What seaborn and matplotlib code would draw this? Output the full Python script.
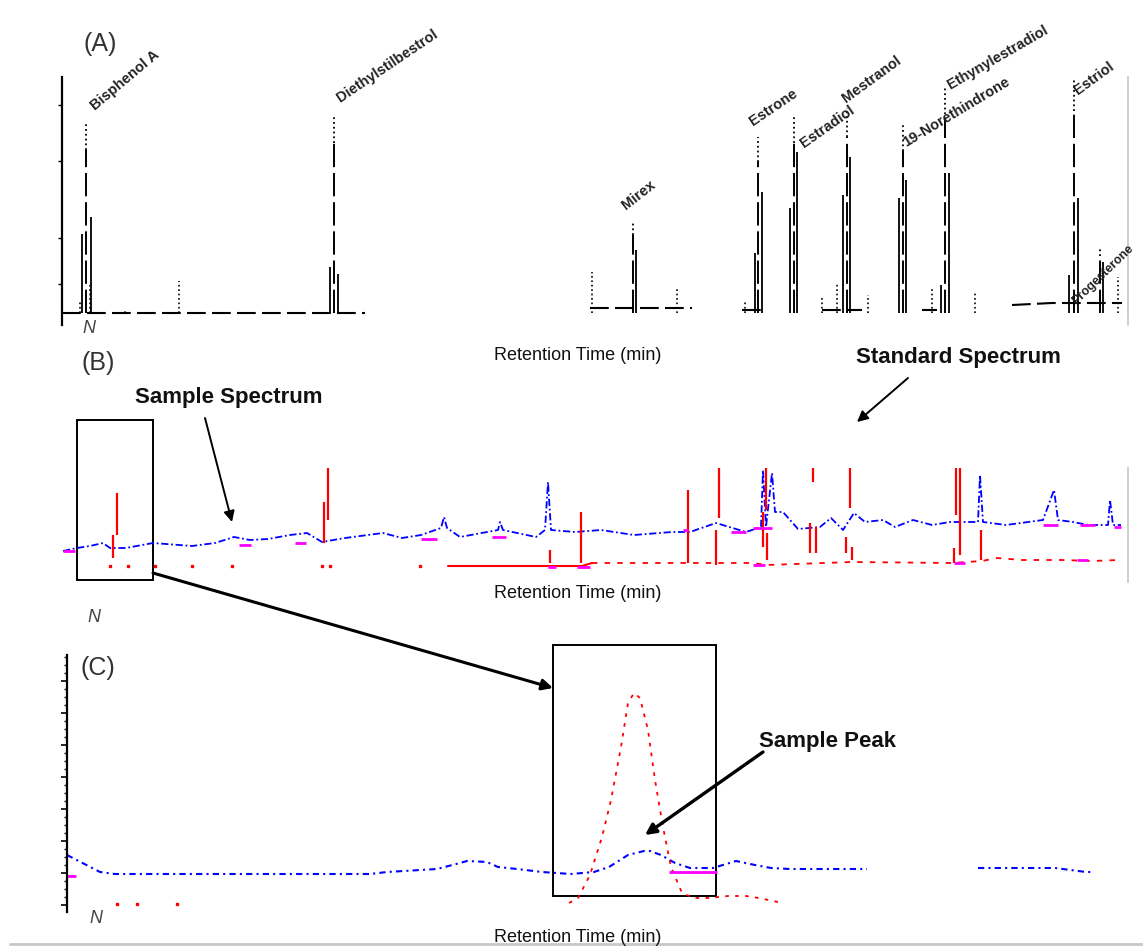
import numpy as np
import pandas as pd
import matplotlib
matplotlib.use("Agg")
import matplotlib.pyplot as plt
import seaborn as sns
from matplotlib.patches import Rectangle, FancyArrowPatch
from matplotlib.lines import Line2D

nan = np.nan
W, H = 1143, 947

# ---------------- Panel A : standard chromatogram ----------------
a_names = ["Bisphenol A", "Diethylstilbestrol", "Mirex", "Estrone", "Estradiol",
           "Mestranol", "19-Norethindrone", "Ethynylestradiol", "Estriol", "Progesterone"]
a_rt = [0.24, 2.72, 5.71, 6.96, 7.32, 7.85, 8.41, 8.83, 10.12, 10.38]
a_height = [189, 198, 91, 176, 198, 205, 188, 225, 235, 66]
a_sh1_rt = [0.29, 2.76, 5.74, 7.00, 7.35, 7.88, 8.44, 8.87, 10.16, 10.41]
a_sh1_h = [96, 39, 63, 121, 161, 156, 133, 140, 115, 51]
a_sh2_rt = [0.20, 2.68, 6.93, 7.28, 7.81, 8.37, 8.79, 10.07]
a_sh2_h = [79, 46, 60, 105, 118, 115, 28, 38]
a_minor_rt = [0.18, 0.28, 0.63, 1.17, 5.30, 6.15, 6.83, 7.60, 7.75, 8.06, 8.70, 9.13, 10.56]
a_minor_h = [13, 28, 3, 32, 41, 26, 13, 16, 30, 18, 26, 21, 36]
a_base_rt = [0.0, 1.5, 3.03, nan, 5.28, 6.30, nan, 6.80, 7.00, nan, 7.60, 8.00, nan,
             8.60, 8.75, nan, 9.50, 9.90, 10.00, 10.60]
a_base_h = [0, 0, 0, nan, 5, 5, nan, 3, 3, nan, 3, 3, nan, 3, 3, nan, 8, 10, 10, 10]

# ---------------- Panel B : sample (blue) vs standard (red) ----------------
b_blue_rt = [0.01, 0.15, 0.28, 0.41, 0.48, 0.64, 0.91, 1.30, 1.53, 1.72, 1.88, 2.06, 2.28,
             2.45, 2.60, 2.83, 3.21, 3.40, 3.59, 3.79, 3.82, 3.85, 3.98, 4.36, 4.38, 4.41,
             4.74, 4.83, 4.86, 4.89, 5.13, 5.39, 5.72, 6.10, 6.28, 6.54, 6.84, 6.99, 7.01,
             7.04, 7.10, 7.13, 7.21, 7.36, 7.58, 7.69, 7.81, 7.92, 8.03, 8.21, 8.33, 8.51,
             8.70, 8.88, 9.07, 9.16, 9.18, 9.21, 9.44, 9.81, 9.92, 9.96, 10.11, 10.26,
             10.46, 10.48, 10.51, 10.59]
b_blue_v = [31, 34, 36, 39, 34, 34, 39, 36, 39, 45, 42, 43, 47,
            49, 40, 44, 49, 44, 47, 54, 65, 54, 45, 52, 60, 52,
            45, 52, 100, 52, 50, 52, 47, 50, 50, 59, 50, 55, 112,
            55, 109, 70, 70, 53, 55, 64, 52, 69, 60, 62, 55, 62,
            57, 60, 60, 60, 107, 60, 57, 62, 92, 62, 60, 57,
            57, 82, 57, 57]
b_red_rt = [0.51, 0.55, 2.62, 2.66, 4.88, 5.19, 6.26, 6.54, 6.57, 7.01, 7.04, 7.05,
            7.48, 7.51, 7.54, 7.84, 7.88, 7.90, 8.92, 8.94, 8.98, 9.19]
b_red_lo = [24, 47, 39, 62, 19, 19, 19, 17, 64, 35, 72, 22, 29, 100, 29, 29, 74, 22, 19, 67, 27, 22]
b_red_hi = [47, 89, 80, 114, 32, 70, 92, 52, 130, 70, 130, 49, 59, 130, 55, 45, 130, 35, 34, 130, 130, 52]
b_red_dot_rt = [0.48, 0.66, 0.93, 1.30, 1.70, 2.60, 2.68, 3.58]
b_red_dot_v = [16, 16, 16, 16, 16, 16, 16, 16]
b_red_base_rt = [3.86, 5.20, 5.30, 6.00, 6.90, 7.05, 7.90, 8.90, 9.20, 9.35, 9.60, 10.00, 10.30, 10.57]
b_red_base_v = [16, 16, 19, 19, 19, 17, 20, 19, 21, 24, 22, 22, 21, 22]
b_mag_start = [0.01, 1.77, 2.33, 3.59, 4.30, 4.86, 5.15, 6.21, 6.69, 6.91, 6.91, 8.92, 9.81, 10.18, 10.15, 10.52]
b_mag_end = [0.13, 1.89, 2.44, 3.75, 4.44, 4.94, 5.28, 6.26, 6.84, 7.10, 7.03, 9.03, 9.96, 10.33, 10.26, 10.59]
b_mag_v = [31, 37, 39, 43, 45, 15, 15, 52, 50, 54, 17, 19, 57, 57, 22, 55]

# ---------------- Panel C : zoom on the sample peak ----------------
c_blue_rt = [0.002, 0.035, 0.05, 0.305, 0.322, 0.372, 0.395, 0.402, 0.422, 0.433, 0.452,
             0.477, 0.506, 0.529, 0.544, 0.563, 0.579, 0.585, 0.596, 0.61, 0.625, 0.648,
             0.671, 0.69, 0.706, 0.725, 0.802, nan, 0.913, 0.99, 1.021, 1.029]
c_blue_v = [50, 33, 31, 31, 33, 36, 42, 44, 43, 38, 36,
            33, 31, 33, 38, 50, 54, 54, 50, 42, 37, 37,
            44, 40, 37, 36, 36, nan, 37, 37, 33, 33]
c_red_rt = [0.504, 0.513, 0.525, 0.537, 0.546, 0.556, 0.563, 0.569, 0.575, 0.583,
            0.59, 0.598, 0.606, 0.617, 0.629, 0.644, 0.663, 0.681, 0.694, 0.713]
c_red_v = [2, 7, 30, 68, 105, 158, 202, 212, 207, 175,
           125, 78, 38, 12, 7, 7, 9, 9, 7, 3]
c_red_dot_rt = [0.052, 0.072, 0.112]
c_red_dot_v = [1, 1, 1]
c_mag_start = [0.0, 0.604]
c_mag_end = [0.011, 0.652]
c_mag_v = [29, 33]

# ---------------- styling ----------------
sns.set_theme(style="white")
plt.rcParams['font.family'] = ['Liberation Sans', 'DejaVu Sans']

fig = plt.figure(figsize=(W / 100, H / 100), dpi=100)
fig.patch.set_facecolor('white')


def rect(l, t, r, b):
    return [l / W, 1 - b / H, (r - l) / W, (b - t) / H]


def fp(x, y):
    return (x / W, 1 - y / H)


axA = fig.add_axes(rect(62, 77, 1128, 325))
axB = fig.add_axes(rect(62, 468, 1128, 582))
axC = fig.add_axes(rect(67, 655, 1105, 912))

for ax in (axA, axB, axC):
    ax.set_facecolor('none')
    ax.spines['top'].set_visible(False)
    ax.spines['bottom'].set_visible(False)
    ax.set_xticks([])

# ---- A ----
axA.set_xlim(0, 10.66)
axA.set_ylim(-12, 236)
top_split = [h * 0.86 for h in a_height]
axA.vlines(a_rt, 0, top_split, colors='black', lw=1.4, linestyles=(0, (12, 3)))
axA.vlines(a_rt, top_split, a_height, colors='black', lw=1.3, linestyles=':')
axA.vlines(a_sh1_rt, 0, a_sh1_h, colors='black', lw=1.3)
axA.vlines(a_sh2_rt, 0, a_sh2_h, colors='black', lw=1.3)
axA.vlines(a_minor_rt, 0, a_minor_h, colors='black', lw=1.2, linestyles=':')
axA.plot(a_base_rt, a_base_h, color='black', lw=1.5, linestyle=(0, (9, 3)))
axA.spines['left'].set_color('black')
axA.spines['left'].set_linewidth(1.6)
axA.spines['right'].set_color('#c8c8c8')
axA.set_yticks([29, 75, 152, 208])
axA.tick_params(axis='y', left=True, length=3, width=1, color='black', labelleft=False)

label_dx = [11, 8, -5, -3, 12, 1, 5, 7, 6, -22]
label_dy = [11, 10, 10, 9, -35, 3, -25, -4, -19, -60]
label_rot = [40, 34, 38, 34, 35, 36, 31, 30, 36, 44]
label_fs = [10.5, 10.5, 10.5, 10.5, 10.5, 10.5, 10.5, 10.5, 10.5, 9]
for name, t, h, dx, dy, rot, fs in zip(a_names, a_rt, a_height, label_dx, label_dy,
                                       label_rot, label_fs):
    axA.annotate(name, xy=(t, h), xytext=(dx, dy), textcoords='offset pixels',
                 rotation=rot, rotation_mode='anchor', ha='left', va='bottom',
                 fontsize=fs, fontweight='bold', color='#222222',
                 annotation_clip=False)

# ---- B ----
axB.set_xlim(0, 10.66)
axB.set_ylim(0, 114)
dfB = pd.DataFrame({'rt': b_blue_rt, 'v': b_blue_v})
sns.lineplot(data=dfB, x='rt', y='v', ax=axB, color='#0000ff', lw=1.3,
             linestyle=(0, (4, 1.5, 1, 1.5)), estimator=None, sort=False)
axB.vlines(b_red_rt, b_red_lo, b_red_hi, colors='#ff0000', lw=1.6)
axB.plot(b_red_dot_rt, b_red_dot_v, ls='none', marker='s', ms=1.8, color='#ff0000')
axB.plot(b_red_base_rt[:3], b_red_base_v[:3], color='#ff0000', lw=1.5)
axB.plot(b_red_base_rt[2:], b_red_base_v[2:], color='#ff0000', lw=1.3, linestyle=(0, (3, 4)))
axB.hlines(b_mag_v, b_mag_start, b_mag_end, colors='#ff00ff', lw=2)
axB.add_patch(Rectangle((0.15, 2), 0.76, 160, fill=False, ec='black', lw=1.4, clip_on=False))
axB.spines['left'].set_visible(False)
axB.spines['right'].set_color('#c8c8c8')
axB.set_yticks([])
axB.set_xlabel('')
axB.set_ylabel('')

# ---- C ----
axC.set_xlim(0.002, 1.04)
axC.set_ylim(-7, 250)
axC.plot(c_blue_rt, c_blue_v, color='#0000ff', lw=1.5, linestyle=(0, (3, 2, 1, 2)))
dfC = pd.DataFrame({'rt': c_red_rt, 'v': c_red_v})
sns.lineplot(data=dfC, x='rt', y='v', ax=axC, color='#ff0000', lw=1.3,
             linestyle=(0, (2, 3.5)), estimator=None, sort=False)
axC.plot(c_red_dot_rt, c_red_dot_v, ls='none', marker='s', ms=1.6, color='#ff0000')
axC.hlines(c_mag_v, c_mag_start, c_mag_end, colors='#ff00ff', lw=2)
axC.add_patch(Rectangle((0.488, 9), 0.163, 251, fill=False, ec='black', lw=1.4, clip_on=False))
axC.spines['left'].set_color('black')
axC.spines['left'].set_linewidth(1.6)
axC.spines['right'].set_visible(False)
axC.yaxis.set_major_locator(matplotlib.ticker.MultipleLocator(32))
axC.yaxis.set_minor_locator(matplotlib.ticker.MultipleLocator(8))
axC.tick_params(axis='y', which='major', left=True, length=4, width=1.2, color='black', labelleft=False)
axC.tick_params(axis='y', which='minor', left=True, length=2, width=1, color='black')
axC.set_xlabel('')
axC.set_ylabel('')

# ---------------- figure-level text ----------------
for lab, (x, y) in zip(["(A)", "(B)", "(C)"], [(100, 44), (98, 363), (98, 668)]):
    fig.text(*fp(x, y), lab, fontsize=18, color='#333333', ha='center', va='center')

for y in (355, 593, 937):
    fig.text(*fp(578, y), "Retention Time (min)", fontsize=13, color='#111111',
             ha='center', va='center')

for x, y in [(89, 328), (94, 617), (96, 918)]:
    fig.text(*fp(x, y), "N", fontsize=13, style='italic', color='#444444',
             ha='center', va='center')

bold_kw = dict(fontsize=16, fontweight='bold', color='#111111', ha='left', va='center',
               family=['Liberation Sans', 'DejaVu Sans'])
fig.text(*fp(135, 398), "Sample Spectrum", **bold_kw)
fig.text(*fp(856, 357), "Standard Spectrum", **bold_kw)
fig.text(*fp(759, 741), "Sample Peak", **bold_kw)

arrows = [((205, 418), (232, 522), 1.4), ((908, 378), (857, 422), 1.4),
          ((763, 752), (645, 835), 2.4), ((153, 573), (553, 688), 2.2)]
for (x0, y0), (x1, y1), lw in arrows:
    fig.add_artist(FancyArrowPatch(fp(x0, y0), fp(x1, y1), transform=fig.transFigure,
                                   arrowstyle='-|>', mutation_scale=16, lw=lw,
                                   color='black', shrinkA=0, shrinkB=0))

fig.add_artist(Line2D([10 / W, 1], [1 - 944 / H, 1 - 944 / H], transform=fig.transFigure,
                      color='#c8c8c8', lw=2))

fig.savefig("out.png", dpi=100, facecolor='white')
